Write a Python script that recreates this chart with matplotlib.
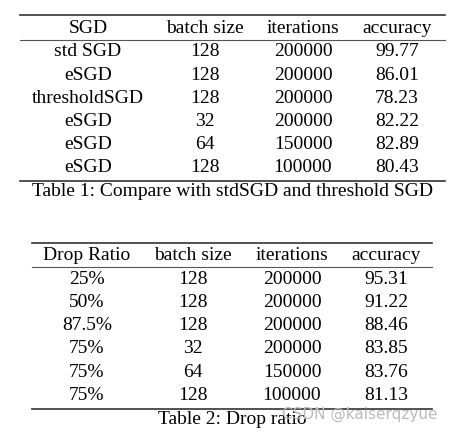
import matplotlib.pyplot as plt

plt.rcParams['font.family'] = ['Liberation Serif', 'DejaVu Serif']

# Table 1
t1_header = ['SGD', 'batch size', 'iterations', 'accuracy']
t1_method = ['std SGD', 'eSGD', 'thresholdSGD', 'eSGD', 'eSGD', 'eSGD']
t1_batch = ['128', '128', '128', '32', '64', '128']
t1_iters = ['200000', '200000', '200000', '200000', '150000', '100000']
t1_acc = ['99.77', '86.01', '78.23', '82.22', '82.89', '80.43']
t1_caption = 'Table 1: Compare with stdSGD and threshold SGD'

# Table 2
t2_header = ['Drop Ratio', 'batch size', 'iterations', 'accuracy']
t2_ratio = ['25%', '50%', '87.5%', '75%', '75%', '75%']
t2_batch = ['128', '128', '128', '32', '64', '128']
t2_iters = ['200000', '200000', '200000', '200000', '150000', '100000']
t2_acc = ['95.31', '91.22', '88.46', '83.85', '83.76', '81.13']
t2_caption = 'Table 2: Drop ratio'

fig = plt.figure(figsize=(4.54, 4.33), dpi=100)
ax = fig.add_axes([0, 0, 1, 1])
ax.set_xlim(0, 454)
ax.set_ylim(433, 0)
ax.axis('off')

fs = 14


def draw_table(cols, header, rows, x0, x1, top, mid, bottom, row0, dy, caption, cap_y):
    # booktabs style rules
    ax.plot([x0, x1], [top, top], color='#333333', lw=1.2)
    ax.plot([x0, x1], [mid, mid], color='#555555', lw=0.8)
    ax.plot([x0, x1], [bottom, bottom], color='#333333', lw=1.2)
    for cx, h in zip(cols, header):
        ax.text(cx, (top + mid) / 2 + 1, h, ha='center', va='center', fontsize=fs)
    for i, row in enumerate(zip(*rows)):
        for cx, v in zip(cols, row):
            ax.text(cx, row0 + i * dy, v, ha='center', va='center', fontsize=fs)
    ax.text(232, cap_y, caption, ha='center', va='center', fontsize=fs)


draw_table([88, 205, 303, 397], t1_header, [t1_method, t1_batch, t1_iters, t1_acc],
           20, 445, 15, 40, 181, 52, 23.2, t1_caption, 192)
draw_table([87, 193, 292, 386], t2_header, [t2_ratio, t2_batch, t2_iters, t2_acc],
           32, 432, 243, 267, 409, 279, 23.3, t2_caption, 419)

# watermark
ax.text(437, 414, 'CSDN @kaiserqzyue', ha='right', va='center', fontsize=11,
        color='#bbbbbb', family=['DejaVu Sans'])

fig.savefig('out.png', dpi=100)
